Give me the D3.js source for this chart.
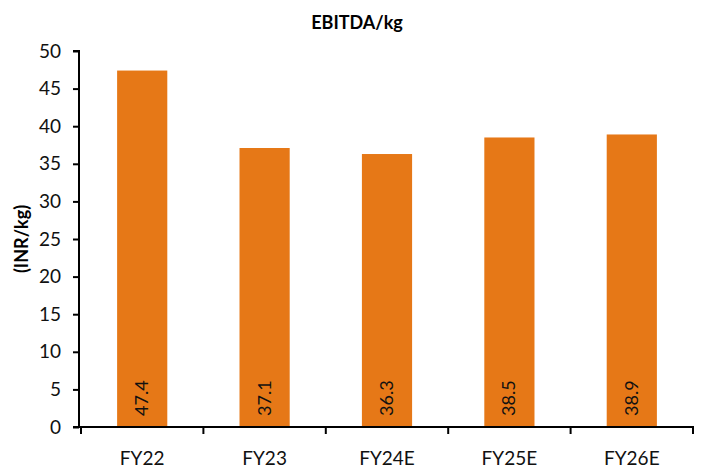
<!DOCTYPE html>
<html>
<head>
<meta charset="utf-8">
<script src="https://cdn.jsdelivr.net/npm/d3@7"></script>
<style>
  html, body { margin: 0; padding: 0; background: #fff; }
  svg { display: block; font-family: "Lato", "Open Sans", sans-serif; }
</style>
</head>
<body>
<svg id="chart" width="713" height="474"></svg>
<script>
// EBITDA per kg by fiscal year
const categories = ["FY22", "FY23", "FY24E", "FY25E", "FY26E"];
const values = [47.4, 37.1, 36.3, 38.5, 38.9];
const yTicks = [0, 5, 10, 15, 20, 25, 30, 35, 40, 45, 50];

const svg = d3.select("#chart");
const margin = { left: 80, right: 20, top: 51, bottom: 47 };
const W = 713, H = 474;

const x = d3.scaleBand().domain(categories).range([81, 693]).paddingInner(0.59).paddingOuter(0.295);
const y = d3.scaleLinear().domain([0, 50]).range([427, 51]);

const barColor = "#E67817";

// bars
svg.append("g").selectAll("rect").data(values).join("rect")
  .attr("x", (d, i) => x(categories[i]))
  .attr("y", d => y(d))
  .attr("width", x.bandwidth())
  .attr("height", d => y(0) - y(d))
  .attr("fill", barColor);

// value labels, rotated inside the bars
svg.append("g").selectAll("text").data(values).join("text")
  .attr("transform", (d, i) => `translate(${x(categories[i]) + x.bandwidth() / 2 + 6},416) rotate(-90)`)
  .attr("text-anchor", "start")
  .attr("font-size", 18)
  .attr("fill", "#111")
  .text(d => d.toFixed(1));

// y axis
const yAxis = d3.axisLeft(y).tickValues(yTicks).tickSize(6).tickPadding(12);
const gy = svg.append("g").attr("transform", "translate(79,0)").call(yAxis);
gy.selectAll("path, line").attr("stroke", "#000").attr("stroke-width", 2);
gy.select("path").attr("d", "M-6,51H0V427");
gy.selectAll("text").attr("font-size", 19).attr("fill", "#111").attr("font-family", "Lato, 'Open Sans', sans-serif");

// x axis with boundary ticks between categories
const gx = svg.append("g");
gx.append("line").attr("x1", 73).attr("x2", 694).attr("y1", 427).attr("y2", 427)
  .attr("stroke", "#000").attr("stroke-width", 2);
const bounds = categories.map(c => x(c) - x.step() * x.paddingInner() / 2 - 0.0001);
const step = x.step();
const edges = d3.range(categories.length + 1).map(i => 81 + i * step);
gx.selectAll("line.tk").data(edges).join("line").attr("class", "tk")
  .attr("x1", d => d).attr("x2", d => d).attr("y1", 427).attr("y2", 434)
  .attr("stroke", "#000").attr("stroke-width", 2);
gx.selectAll("text").data(categories).join("text")
  .attr("x", d => x(d) + x.bandwidth() / 2)
  .attr("y", 465)
  .attr("text-anchor", "middle")
  .attr("font-size", 19)
  .attr("fill", "#111")
  .text(d => d);

// title
svg.append("text").attr("x", 357).attr("y", 29).attr("text-anchor", "middle")
  .attr("font-size", 18).attr("font-weight", "bold").attr("fill", "#000").text("EBITDA/kg");

// y axis title
svg.append("text").attr("transform", "translate(28,239) rotate(-90)")
  .attr("text-anchor", "middle").attr("font-size", 18).attr("font-weight", "bold")
  .attr("fill", "#000").text("(INR/kg)");
</script>
</body>
</html>
